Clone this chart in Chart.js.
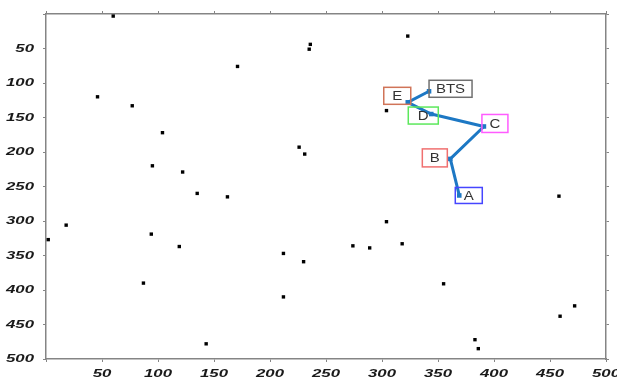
<!DOCTYPE html>
<html>
<head>
<meta charset="utf-8">
<script src="https://cdn.jsdelivr.net/npm/chart.js@4/dist/chart.umd.min.js"></script>
<style>
  html, body { margin: 0; padding: 0; background: #fff; }
  #wrap { width: 617px; height: 379px; }
</style>
</head>
<body>
<div id="wrap"><canvas id="chart" width="617" height="379"></canvas></div>
<script>
// scattered black markers
const dotX = [60, 236, 235, 171, 46, 77, 104, 226, 231, 95, 122, 135, 162, 323, 304, 458,
              2, 18, 94, 119, 87, 143, 212, 230, 212, 304, 274, 289, 318, 355, 383, 386, 459, 472];
const dotY = [3, 44, 51, 76, 120, 133, 172, 193, 203, 220, 229, 260, 265, 32, 140, 264,
              327, 306, 319, 337, 390, 478, 347, 359, 410, 301, 336, 339, 333, 391, 472, 485, 438, 423];

// route through labelled stops
const routeNames = ['BTS', 'E', 'D', 'C', 'B', 'A'];
const routeX = [342, 323, 344, 391, 361, 369];
const routeY = [112, 128, 145, 163, 210, 263];

// axis ticks
const tickValues = [50, 100, 150, 200, 250, 300, 350, 400, 450, 500];

// label box look (pixel offsets from the point)
const boxStyle = {
  A:   { dx: -4,  dy: -8,  w: 27, h: 16, color: '#4646ff' },
  B:   { dx: -28, dy: -10, w: 25, h: 18, color: '#f07070' },
  C:   { dx: -2,  dy: -12, w: 26, h: 18, color: '#ff5cff' },
  D:   { dx: -23, dy: -7,  w: 30, h: 17, color: '#5ce85c' },
  E:   { dx: -24, dy: -15, w: 27, h: 17, color: '#d07458' },
  BTS: { dx: 0,   dy: -11, w: 43, h: 17, color: '#707070' }
};

function stretchText(ctx, text, x, y, sx) {
  ctx.save();
  ctx.translate(x, y);
  ctx.scale(sx, 1);
  ctx.fillText(text, 0, 0);
  ctx.restore();
}

const tickLabelPlugin = {
  id: 'tickLabels',
  afterDraw(chart) {
    const ctx = chart.ctx;
    const xs = chart.scales.x, ys = chart.scales.y;
    ctx.save();
    ctx.fillStyle = '#1a1a1a';
    ctx.font = 'italic bold 10.5px Arial';
    ctx.textBaseline = 'middle';
    ctx.textAlign = 'center';
    tickValues.forEach(v => stretchText(ctx, String(v), xs.getPixelForValue(v), 374, 1.6));
    ctx.textAlign = 'right';
    tickValues.forEach(v => stretchText(ctx, String(v), 34, ys.getPixelForValue(v) + 0.5, 1.6));
    ctx.restore();
  }
};

const boxLabelPlugin = {
  id: 'boxLabels',
  afterDraw(chart) {
    const ctx = chart.ctx;
    const xs = chart.scales.x, ys = chart.scales.y;
    ctx.save();
    ctx.lineWidth = 1.5;
    ctx.font = '12px Arial';
    ctx.textAlign = 'center';
    ctx.textBaseline = 'middle';
    routeNames.forEach((name, i) => {
      const s = boxStyle[name];
      const px = xs.getPixelForValue(routeX[i]);
      const py = ys.getPixelForValue(routeY[i]);
      const bx = px + s.dx, by = py + s.dy;
      ctx.strokeStyle = s.color;
      ctx.strokeRect(bx, by, s.w, s.h);
      ctx.fillStyle = '#333';
      stretchText(ctx, name, bx + s.w / 2, by + s.h / 2 + 1, 1.25);
    });
    ctx.restore();
  }
};

function fixSize(prop, size) {
  return function (scale) {
    scale[prop] = size;
    scale.paddingLeft = 0; scale.paddingRight = 0;
    scale.paddingTop = 0; scale.paddingBottom = 0;
  };
}

const axisLook = {
  border: { display: true, color: '#858585', width: 1.5 },
  grid: { drawOnChartArea: false, drawTicks: true, tickLength: 3, color: '#858585', lineWidth: 1 },
  ticks: { display: false, stepSize: 50 },
  min: 0,
  max: 500
};

new Chart(document.getElementById('chart'), {
  type: 'scatter',
  data: {
    datasets: [
      {
        data: dotX.map((x, i) => ({ x: x, y: dotY[i] })),
        pointStyle: 'rect',
        pointRadius: 2.4,
        backgroundColor: '#000',
        borderWidth: 0,
        showLine: false
      },
      {
        data: routeX.map((x, i) => ({ x: x, y: routeY[i] })),
        showLine: true,
        borderColor: '#1d78c4',
        borderWidth: 3,
        pointRadius: 1.1,
        pointStyle: 'rect',
        backgroundColor: '#0b3560',
        borderJoinStyle: 'round'
      }
    ]
  },
  options: {
    responsive: false,
    animation: false,
    layout: { padding: 0 },
    plugins: { legend: { display: false }, tooltip: { enabled: false } },
    scales: {
      x: Object.assign({ type: 'linear', position: 'bottom', afterFit: fixSize('height', 20) }, axisLook),
      x2: Object.assign({ type: 'linear', position: 'top', afterFit: fixSize('height', 14) }, axisLook),
      y: Object.assign({ type: 'linear', position: 'left', reverse: true, afterFit: fixSize('width', 46) }, axisLook),
      y2: Object.assign({ type: 'linear', position: 'right', reverse: true, afterFit: fixSize('width', 11) }, axisLook)
    }
  },
  plugins: [tickLabelPlugin, boxLabelPlugin]
});
</script>
</body>
</html>
